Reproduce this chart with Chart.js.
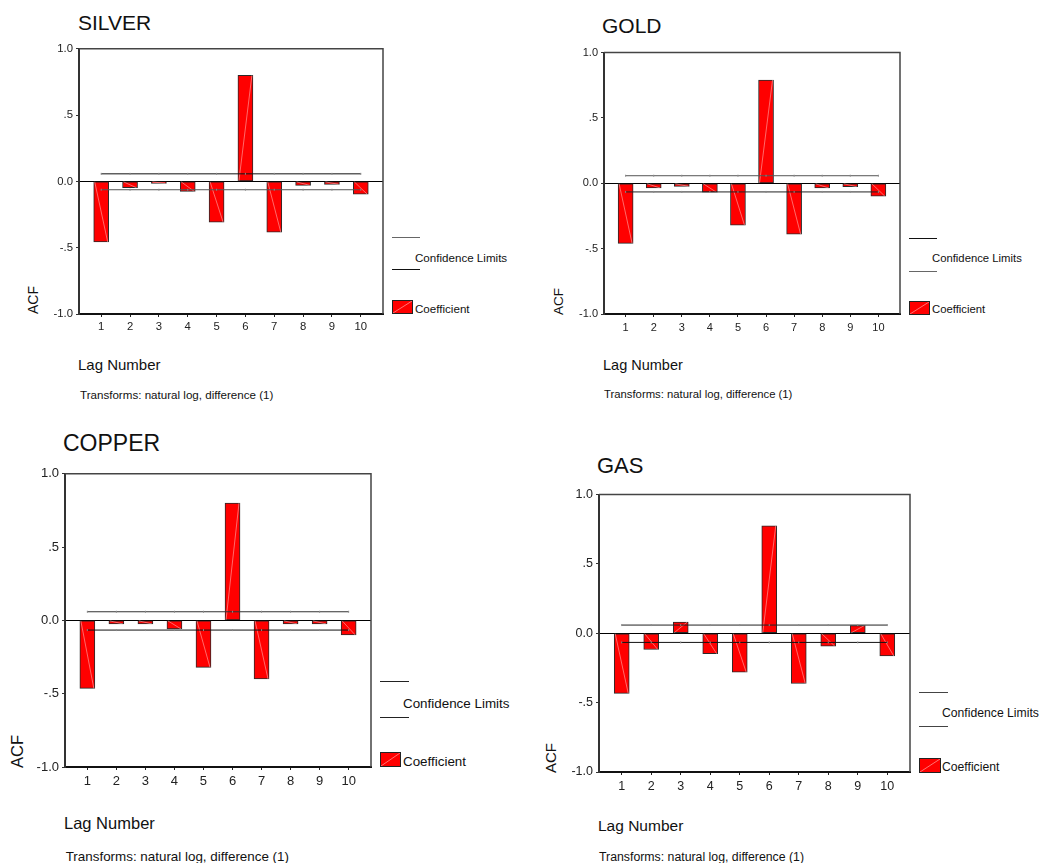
<!DOCTYPE html>
<html>
<head>
  <title>ACF panels</title>
  <script src="https://cdn.jsdelivr.net/npm/chart.js"></script>
  <style>
    body {
      margin: 0;
      width: 1058px;
      height: 863px;
      background: #fff;
      position: relative;
      overflow: hidden;
      font-family: "Liberation Sans", Arial, sans-serif;
      color: #111;
    }
    .t {
      position: absolute;
      white-space: nowrap;
    }
    .ln {
      position: absolute;
      height: 1px;
    }
    .sw {
      position: absolute;
      background: #ff0000;
      border: 1px solid #222;
      box-sizing: border-box;
      overflow: hidden;
    }
    canvas {
      position: absolute;
    }
  </style>
</head>
<body>
<script>
  // ACF coefficients, lags 1..10
  const lags = [1, 2, 3, 4, 5, 6, 7, 8, 9, 10];
  const silverAcf = [-0.457, -0.048, -0.015, -0.075, -0.307, 0.80, -0.382, -0.030, -0.022, -0.097];
  const goldAcf = [-0.46, -0.036, -0.023, -0.068, -0.32, 0.79, -0.39, -0.036, -0.026, -0.099];
  const copperAcf = [-0.464, -0.024, -0.024, -0.058, -0.32, 0.80, -0.40, -0.024, -0.024, -0.099];
  const gasAcf = [-0.433, -0.117, 0.081, -0.148, -0.281, 0.774, -0.362, -0.093, 0.055, -0.164];

  // upper / lower confidence limits
  const silverLimits = [0.057, -0.063];
  const goldLimits = [0.058, -0.066];
  const copperLimits = [0.059, -0.066];
  const gasLimits = [0.059, -0.066];

  const yTickValues = [-1, -0.5, 0, 0.5, 1];
  const yTickLabels = ['-1.0', '-.5', '0.0', '.5', '1.0'];
  const legendLabels = ['Confidence Limits', 'Coefficient'];
  const xTitle = 'Lag Number';
  const yTitle = 'ACF';
  const note = 'Transforms: natural log, difference (1)';

  const FONT = '"Liberation Sans", Arial, sans-serif';

  // layout of each panel (pixels)
  const panels = [
    {
      name: 'SILVER', acf: silverAcf, limits: silverLimits, limitColors: ['#111', '#555'],
      box: [79, 47, 383, 314], tick: 11.3, xPad: 3.5,
      title: [78, 29.3, 21], lag: [78, 370, 15], note: [80, 399, 11.6], acfLbl: [38.3, 314, 14],
      leg: { x1: 392, x2: 420, y1: 237, y2: 269, c1: '#666', c2: '#111', tx: 415, tb: 261.7, fs: 11.6, sw: [392, 300, 21, 14], cb: 312.7 }
    },
    {
      name: 'GOLD', acf: goldAcf, limits: goldLimits, limitColors: ['#555', '#222'],
      box: [604, 51, 900, 314], tick: 11, xPad: 4,
      title: [602, 32.3, 21], lag: [603, 370, 14.5], note: [604, 399, 11.3], acfLbl: [563.3, 315, 13.5],
      leg: { x1: 909, x2: 937, y1: 238, y2: 271, c1: '#111', c2: '#666', tx: 932, tb: 262.7, fs: 11.3, sw: [909, 301, 21, 14], cb: 314 }
    },
    {
      name: 'COPPER', acf: copperAcf, limits: copperLimits, limitColors: ['#333', '#111'],
      box: [65, 471, 371, 767], tick: 13, xPad: 4,
      title: [63, 451.7, 23], lag: [64, 829.3, 16.5], note: [65.7, 861.7, 13.4], acfLbl: [22.7, 768.3, 16.5],
      leg: { x1: 380, x2: 409, y1: 681, y2: 717, c1: '#222', c2: '#222', tx: 403, tb: 708.7, fs: 13.4, sw: [380, 752, 21, 15], cb: 766 }
    },
    {
      name: 'GAS', acf: gasAcf, limits: gasLimits, limitColors: ['#222', '#111'],
      box: [599, 492, 910, 772], tick: 12.5, xPad: 4.5,
      title: [597, 473.3, 22], lag: [598, 830.7, 15.5], note: [599, 861, 12.3], acfLbl: [556, 772.7, 15],
      leg: { x1: 919, x2: 948, y1: 692, y2: 726, c1: '#444', c2: '#444', tx: 942, tb: 717.7, fs: 12.2, sw: [919, 758, 22, 15], cb: 771.7 }
    }
  ];

  function addText(str, x, baseline, fs, rotate) {
    const d = document.createElement('div');
    d.className = 't';
    d.textContent = str;
    d.style.fontSize = fs + 'px';
    d.style.lineHeight = fs + 'px';
    if (rotate) {
      // x is the baseline position, baseline arg is the bottom (text start)
      d.style.left = (x - 0.8465 * fs) + 'px';
      d.style.top = baseline + 'px';
      d.style.transformOrigin = '0 0';
      d.style.transform = 'rotate(-90deg)';
    } else {
      d.style.left = x + 'px';
      d.style.top = (baseline - 0.8465 * fs) + 'px';
    }
    document.body.appendChild(d);
  }

  function addLine(x1, x2, y, color) {
    const d = document.createElement('div');
    d.className = 'ln';
    d.style.left = x1 + 'px';
    d.style.width = (x2 - x1) + 'px';
    d.style.top = y + 'px';
    d.style.background = color;
    document.body.appendChild(d);
  }

  // top and right edges of the plot frame
  const framePlugin = {
    id: 'frame',
    afterDraw(chart) {
      const a = chart.chartArea;
      const ctx = chart.ctx;
      ctx.save();
      ctx.strokeStyle = '#444';
      ctx.lineWidth = 1.5;
      ctx.beginPath();
      ctx.moveTo(a.left, a.top);
      ctx.lineTo(a.right, a.top);
      ctx.lineTo(a.right, a.bottom);
      ctx.stroke();
      ctx.restore();
    }
  };

  // faint diagonal seen inside each red bar
  const diagPlugin = {
    id: 'diag',
    afterDatasetDraw(chart, args) {
      if (args.meta.type !== 'bar') return;
      const ctx = chart.ctx;
      ctx.save();
      ctx.strokeStyle = 'rgba(255,190,190,0.55)';
      ctx.lineWidth = 1;
      args.meta.data.forEach(bar => {
        const l = bar.x - bar.width / 2 + 1;
        const r = bar.x + bar.width / 2 - 1;
        ctx.beginPath();
        ctx.moveTo(l, bar.base);
        ctx.lineTo(r, bar.y);
        ctx.stroke();
      });
      ctx.restore();
    }
  };

  const YW = 45, XH = 30, PT = 8, PR = 8;

  panels.forEach(p => {
    const [L, T, R, B] = p.box;

    addText(p.name, p.title[0], p.title[1], p.title[2]);
    addText(xTitle, p.lag[0], p.lag[1], p.lag[2]);
    addText(note, p.note[0], p.note[1], p.note[2]);
    addText(yTitle, p.acfLbl[0], p.acfLbl[1], p.acfLbl[2], true);

    const g = p.leg;
    addLine(g.x1, g.x2, g.y1, g.c1);
    addLine(g.x1, g.x2, g.y2, g.c2);
    addText(legendLabels[0], g.tx, g.tb, g.fs);
    const sw = document.createElement('div');
    sw.className = 'sw';
    sw.style.left = g.sw[0] + 'px';
    sw.style.top = g.sw[1] + 'px';
    sw.style.width = g.sw[2] + 'px';
    sw.style.height = g.sw[3] + 'px';
    sw.innerHTML = '<svg width="100%" height="100%" style="display:block"><line x1="0" y1="100%" x2="100%" y2="0" stroke="rgba(255,190,190,0.6)" stroke-width="1"/></svg>';
    document.body.appendChild(sw);
    addText(legendLabels[1], g.tx, g.cb, g.fs);

    const cv = document.createElement('canvas');
    cv.width = (R - L) + YW + PR;
    cv.height = (B - T) + PT + XH;
    cv.style.left = (L - YW) + 'px';
    cv.style.top = (T - PT) + 'px';
    document.body.appendChild(cv);

    const tickFont = { family: FONT, size: p.tick };

    new Chart(cv, {
      type: 'bar',
      data: {
        datasets: [
          {
            type: 'line',
            data: lags.map(x => ({ x: x, y: p.limits[0] })),
            borderColor: p.limitColors[0],
            borderWidth: 1,
            pointStyle: 'line',
            rotation: 90,
            pointRadius: 1,
            pointBorderColor: '#888',
            pointBorderWidth: 1,
            order: 1
          },
          {
            type: 'line',
            data: lags.map(x => ({ x: x, y: p.limits[1] })),
            borderColor: p.limitColors[1],
            borderWidth: 1,
            pointStyle: 'line',
            rotation: 90,
            pointRadius: 1,
            pointBorderColor: '#888',
            pointBorderWidth: 1,
            order: 1
          },
          {
            type: 'bar',
            data: lags.map((x, i) => ({ x: x, y: p.acf[i] })),
            backgroundColor: '#ff0000',
            borderColor: '#2a2a2a',
            borderWidth: 1,
            borderSkipped: false,
            barThickness: 15,
            order: 2
          }
        ]
      },
      options: {
        responsive: false,
        animation: false,
        layout: { padding: { top: PT, right: PR, left: 0, bottom: 0 } },
        plugins: {
          legend: { display: false },
          tooltip: { enabled: false }
        },
        scales: {
          x: {
            type: 'linear',
            offset: false,
            min: 0.23,
            max: 10.77,
            afterBuildTicks: s => { s.ticks = lags.map(v => ({ value: v })); },
            afterFit: s => { s.height = XH; },
            grid: { display: true, offset: false, drawOnChartArea: false, drawTicks: true, tickLength: 3, tickColor: '#222' },
            border: { display: true, color: '#111', width: 2 },
            ticks: { font: tickFont, color: '#222', padding: p.xPad, maxRotation: 0, callback: v => String(v) }
          },
          y: {
            min: -1,
            max: 1,
            afterBuildTicks: s => { s.ticks = yTickValues.map(v => ({ value: v })); },
            afterFit: s => { s.width = YW; },
            grid: {
              drawOnChartArea: true,
              color: c => (c.tick && c.tick.value === 0 ? '#000' : 'rgba(0,0,0,0)'),
              tickColor: '#333',
              tickLength: 3,
              lineWidth: 1
            },
            border: { display: true, color: '#333', width: 2 },
            ticks: {
              font: tickFont,
              color: '#222',
              padding: 3,
              callback: v => yTickLabels[yTickValues.indexOf(v)]
            }
          }
        }
      },
      plugins: [framePlugin, diagPlugin]
    });
  });
</script>
</body>
</html>
